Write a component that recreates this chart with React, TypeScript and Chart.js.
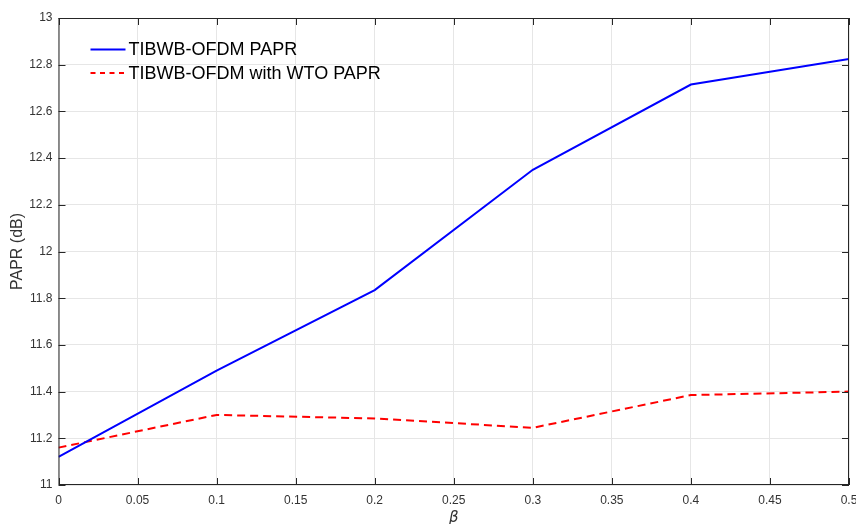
import React, { useEffect, useRef } from "react";
import { Chart, registerables } from "chart.js";

Chart.register(...registerables);

const betaValues = [0, 0.1, 0.2, 0.3, 0.4, 0.5];
const paprPlain = [11.12, 11.49, 11.835, 12.35, 12.715, 12.825];
const paprWto = [11.16, 11.3, 11.285, 11.245, 11.385, 11.4];
const seriesNames = ["TIBWB-OFDM PAPR", "TIBWB-OFDM with WTO PAPR"];
const seriesColors = ["#0000ff", "#ff0000"];
const xLabel = "β";
const yLabel = "PAPR (dB)";

const FONT = "'Liberation Sans', Arial, Helvetica, sans-serif";
const AXIS_COLOR = "#262626";
const TICK_TEXT = "#333333";

const fmt = (v: number) => String(Number(v.toFixed(2)));

// Box frame, inward tick marks on all four sides and the in-plot legend
const framePlugin = {
  id: "frame",
  afterDatasetsDraw(chart: any) {
    const { ctx, chartArea: a, scales } = chart;
    const xs = scales.x;
    const ys = scales.y;
    ctx.save();
    ctx.strokeStyle = AXIS_COLOR;
    ctx.lineWidth = 1;
    ctx.strokeRect(a.left + 0.5, a.top + 0.5, a.right - a.left - 1, a.bottom - a.top - 1);
    const tl = 7;
    ctx.beginPath();
    xs.ticks.forEach((t: any) => {
      const px = Math.round(xs.getPixelForValue(t.value)) + 0.5;
      ctx.moveTo(px, a.bottom);
      ctx.lineTo(px, a.bottom - tl);
      ctx.moveTo(px, a.top);
      ctx.lineTo(px, a.top + tl);
    });
    ys.ticks.forEach((t: any) => {
      const py = Math.round(ys.getPixelForValue(t.value)) + 0.5;
      ctx.moveTo(a.left, py);
      ctx.lineTo(a.left + tl, py);
      ctx.moveTo(a.right, py);
      ctx.lineTo(a.right - tl, py);
    });
    ctx.stroke();

    // legend
    const lx = a.left + 32;
    const rows = [a.top + 31.5, a.top + 55];
    ctx.font = `18px ${FONT}`;
    ctx.textBaseline = "middle";
    ctx.fillStyle = "#000";
    rows.forEach((y, i) => {
      ctx.strokeStyle = seriesColors[i];
      ctx.lineWidth = 2;
      ctx.setLineDash(i === 1 ? [5, 4.5] : []);
      ctx.beginPath();
      ctx.moveTo(lx, y);
      ctx.lineTo(lx + 35, y);
      ctx.stroke();
      ctx.setLineDash([]);
      ctx.fillText(seriesNames[i], lx + 38, y + 1);
    });
    ctx.restore();
  },
};

export default function App() {
  const ref = useRef<HTMLCanvasElement | null>(null);

  useEffect(() => {
    if (!ref.current) return;
    const chart = new Chart(ref.current, {
      type: "line",
      data: {
        datasets: [
          {
            label: seriesNames[0],
            data: betaValues.map((x, i) => ({ x, y: paprPlain[i] })),
            borderColor: seriesColors[0],
            borderWidth: 2,
            pointRadius: 0,
            tension: 0,
          },
          {
            label: seriesNames[1],
            data: betaValues.map((x, i) => ({ x, y: paprWto[i] })),
            borderColor: seriesColors[1],
            borderWidth: 2,
            borderDash: [8, 5],
            pointRadius: 0,
            tension: 0,
          },
        ],
      },
      options: {
        animation: false,
        responsive: false,
        maintainAspectRatio: false,
        layout: { padding: { top: 18, right: 7, left: 0, bottom: 0 } },
        plugins: { legend: { display: false }, tooltip: { enabled: false } },
        scales: {
          x: {
            type: "linear",
            min: 0,
            max: 0.5,
            afterFit: (s: any) => {
              s.height = 39;
              s.paddingLeft = 0;
              s.paddingRight = 0;
            },
            ticks: {
              stepSize: 0.05,
              callback: (v: any) => fmt(Number(v)),
              color: TICK_TEXT,
              font: { family: FONT, size: 12 },
              padding: 8,
              maxRotation: 0,
            },
            grid: { color: "#e6e6e6", drawTicks: false, lineWidth: 1 },
            border: { display: false },
            title: {
              display: true,
              text: xLabel,
              color: TICK_TEXT,
              font: { family: "'DejaVu Sans', sans-serif", size: 15, style: "italic" },
              padding: { top: 0, bottom: -3 },
            },
          },
          y: {
            min: 11,
            max: 13,
            afterFit: (s: any) => {
              s.width = 58.5;
              s.paddingTop = 0;
              s.paddingBottom = 0;
            },
            ticks: {
              stepSize: 0.2,
              callback: (v: any) => fmt(Number(v)),
              color: TICK_TEXT,
              font: { family: FONT, size: 12 },
              padding: 6,
            },
            grid: { color: "#e6e6e6", drawTicks: false, lineWidth: 1 },
            border: { display: false },
            title: {
              display: true,
              text: yLabel,
              color: TICK_TEXT,
              font: { family: FONT, size: 16 },
              padding: { top: 8, bottom: 0 },
            },
          },
        },
      },
      plugins: [framePlugin],
    });
    return () => chart.destroy();
  }, []);

  return (
    <div style={{ position: "fixed", left: 0, top: 0, width: 856, height: 524, background: "#fff" }}>
      <canvas ref={ref} width={856} height={524} style={{ display: "block" }} />
    </div>
  );
}
